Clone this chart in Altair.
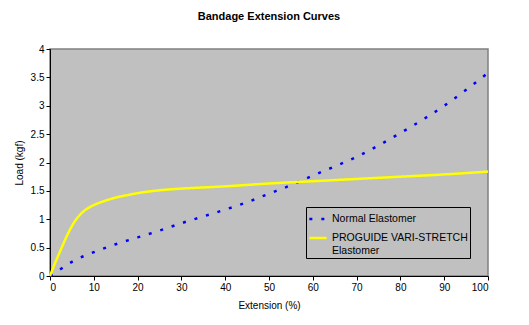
import altair as alt
import pandas as pd

normal_x = [0, 2, 5, 10, 15, 20, 25, 30, 35, 40, 45, 50, 55, 60, 65, 70, 75, 80, 85, 90, 95, 100]
normal_y = [0, 0.1, 0.25, 0.42, 0.56, 0.68, 0.8, 0.93, 1.05, 1.17, 1.3, 1.45, 1.6, 1.77, 1.93, 2.1, 2.3, 2.52, 2.75, 3.0, 3.28, 3.58]

vari_x = [0, 1, 2, 3, 4, 5, 6, 7, 8, 9, 10, 12, 14, 16, 18, 20, 25, 30, 35, 40, 50, 60, 70, 80, 90, 100]
vari_y = [0, 0.2, 0.38, 0.56, 0.73, 0.88, 1.0, 1.09, 1.16, 1.21, 1.25, 1.31, 1.36, 1.4, 1.43, 1.46, 1.51, 1.54, 1.56, 1.58, 1.63, 1.67, 1.71, 1.75, 1.79, 1.84]

series_names = ["Normal Elastomer", "PROGUIDE VARI-STRETCH Elastomer"]

df = pd.concat([
    pd.DataFrame({"ext": normal_x, "load": normal_y, "series": series_names[0]}),
    pd.DataFrame({"ext": vari_x, "load": vari_y, "series": series_names[1]}),
])

FONT = "Liberation Sans"

legend = alt.Legend(
    title=None,
    orient="none",
    legendX=256,
    legendY=158,
    direction="vertical",
    symbolType="stroke",
    symbolSize=300,
    symbolStrokeWidth=2.5,
    strokeColor="black",
    fillColor="#C0C0C0",
    padding=2,
    rowPadding=3,
    labelFont=FONT,
    labelFontSize=10.5,
    labelColor="black",
    labelLimit=200,
    labelExpr="datum.label == 'PROGUIDE VARI-STRETCH Elastomer' ? ['PROGUIDE VARI-STRETCH', 'Elastomer'] : datum.label",
)

chart = alt.Chart(df).mark_line(strokeWidth=2.5, interpolate="monotone").encode(
    x=alt.X("ext:Q", title="Extension (%)",
            scale=alt.Scale(domain=[0, 100], nice=False),
            axis=alt.Axis(values=list(range(0, 101, 10)), grid=False, tickSize=4,
                          domainColor="black", tickColor="black")),
    y=alt.Y("load:Q", title="Load (kgf)",
            scale=alt.Scale(domain=[0, 4], nice=False),
            axis=alt.Axis(values=[0, 0.5, 1, 1.5, 2, 2.5, 3, 3.5, 4], format="~g", grid=False, tickSize=4,
                          domainColor="black", tickColor="black")),
    color=alt.Color("series:N", scale=alt.Scale(domain=series_names, range=["#0000FF", "#FFFF00"]), legend=legend),
    strokeDash=alt.StrokeDash("series:N", scale=alt.Scale(domain=series_names, range=[[3, 9], [1, 0]]), legend=legend),
    order=alt.Order("ext:Q"),
).properties(
    width=438,
    height=227,
    title=alt.TitleParams("Bandage Extension Curves", font=FONT, fontSize=11, fontWeight="bold",
                          anchor="middle", offset=22, color="black"),
    autosize=alt.AutoSizeParams(type="none"),
    padding={"left": 50, "top": 49, "right": 41, "bottom": 49},
).configure_view(
    fill="#C0C0C0", stroke="#808080", strokeWidth=1.5
).configure_axis(
    labelFont=FONT, labelFontSize=10, labelColor="black",
    titleFont=FONT, titleFontSize=10, titleColor="black", titleFontWeight="normal",
).configure_axisY(titlePadding=6).configure_axisX(titlePadding=8)

chart.save("out.html", embed_options={"renderer": "svg", "actions": False})
